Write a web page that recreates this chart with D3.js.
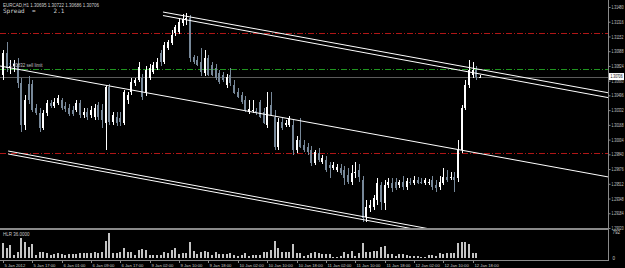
<!DOCTYPE html>
<html>
<head>
<meta charset="utf-8">
<script src="https://cdn.jsdelivr.net/npm/d3@7"></script>
<style>
  html, body { margin: 0; padding: 0; background: #000; }
  svg { display: block; }
</style>
</head>
<body>
<div id="chart"></div>
<script>
// EURCAD H1 candles, 5 Jan 2012 .. 12 Jan 2012
// =================================
var openP = [1.30723,1.30968,1.30801,1.30823,1.30846,1.30634,1.30167,1.30623,1.30623,1.30356,
  1.30300,1.30133,1.30300,1.30412,1.30378,1.30412,1.30445,1.30378,1.30356,1.30334,
  1.30334,1.30412,1.30278,1.30311,1.30278,1.30256,1.30389,1.30334,1.30189,1.30590,
  1.30200,1.30256,1.30245,1.30189,1.30445,1.30534,1.30634,1.30668,1.30690,1.30523,
  1.30690,1.30757,1.30801,1.30968,1.30868,1.31024,1.31079,1.31191,1.31202,1.31302,
  1.31335,1.31358,1.30924,1.30890,1.30868,1.30745,1.30912,1.30835,1.30801,1.30745,
  1.30723,1.30612,1.30723,1.30612,1.30534,1.30501,1.30445,1.30311,1.30322,1.30322,
  1.30423,1.30311,1.30167,1.30389,1.30256,1.29922,1.30200,1.30167,1.30167,1.30167,
  1.29888,1.30000,1.29944,1.29922,1.29888,1.29744,1.29855,1.29755,1.29777,1.29721,
  1.29688,1.29666,1.29688,1.29666,1.29610,1.29532,1.29632,1.29666,1.29554,1.29143,
  1.29243,1.29254,1.29332,1.29499,1.29300,1.29499,1.29521,1.29532,1.29499,1.29532,
  1.29476,1.29532,1.29521,1.29554,1.29532,1.29521,1.29521,1.29554,1.29499,1.29476,
  1.29521,1.29588,1.29577,1.29588,1.29577,1.29888,1.30356,1.30612,1.30723,1.30779,
  1.30695];
var highP = [1.31001,1.31091,1.30890,1.30890,1.30912,1.30690,1.30501,1.30712,1.30668,1.30400,
  1.30356,1.30334,1.30445,1.30445,1.30467,1.30501,1.30467,1.30423,1.30400,1.30378,
  1.30445,1.30445,1.30356,1.30356,1.30378,1.30400,1.30423,1.30400,1.30612,1.30623,
  1.30311,1.30311,1.30311,1.30556,1.30534,1.30690,1.30690,1.30868,1.30734,1.30823,
  1.30846,1.30868,1.30912,1.31001,1.31091,1.31113,1.31224,1.31280,1.31358,1.31402,
  1.31413,1.31391,1.30946,1.30935,1.31024,1.31001,1.30946,1.30868,1.30846,1.30779,
  1.30757,1.30734,1.30801,1.30668,1.30578,1.30534,1.30489,1.30445,1.30445,1.30356,
  1.30445,1.30356,1.30534,1.30534,1.30334,1.30245,1.30245,1.30222,1.30267,1.30222,
  1.30044,1.30245,1.30000,1.29966,1.29933,1.29888,1.29911,1.29833,1.29822,1.29755,
  1.29755,1.29733,1.29733,1.29710,1.29688,1.29721,1.29755,1.29733,1.29599,1.29332,
  1.29332,1.29388,1.29577,1.29532,1.29554,1.29577,1.29577,1.29577,1.29554,1.29599,
  1.29577,1.29577,1.29599,1.29588,1.29577,1.29577,1.29566,1.29599,1.29554,1.29599,
  1.29688,1.29666,1.29643,1.29643,1.30000,1.30389,1.30668,1.30890,1.30868,1.30823,
  1.30722];
var lowP = [1.30668,1.30757,1.30734,1.30757,1.30578,1.30089,1.30111,1.30400,1.30311,1.30278,
  1.30089,1.30111,1.30267,1.30356,1.30356,1.30389,1.30334,1.30311,1.30267,1.30267,
  1.30311,1.30245,1.30245,1.30222,1.30245,1.30222,1.30222,1.30133,1.29888,1.30167,
  1.30167,1.30156,1.30156,1.30167,1.30400,1.30501,1.30601,1.30645,1.30445,1.30489,
  1.30668,1.30734,1.30779,1.30823,1.30846,1.31001,1.31057,1.31157,1.31180,1.31269,
  1.31280,1.30868,1.30846,1.30823,1.30712,1.30712,1.30712,1.30712,1.30668,1.30623,
  1.30645,1.30578,1.30601,1.30512,1.30467,1.30400,1.30311,1.30289,1.30300,1.30278,
  1.30245,1.30178,1.30133,1.30267,1.29888,1.29888,1.30111,1.30144,1.30144,1.29833,
  1.29855,1.29911,1.29866,1.29833,1.29710,1.29721,1.29755,1.29733,1.29643,1.29577,
  1.29666,1.29643,1.29610,1.29499,1.29510,1.29499,1.29577,1.29532,1.29087,1.29087,
  1.29198,1.29221,1.29276,1.29221,1.29221,1.29465,1.29421,1.29443,1.29465,1.29443,
  1.29443,1.29499,1.29499,1.29510,1.29510,1.29499,1.29499,1.29443,1.29421,1.29443,
  1.29499,1.29532,1.29554,1.29421,1.29532,1.29855,1.30334,1.30578,1.30690,1.30668,
  1.30686];
var closeP = [1.30968,1.30801,1.30823,1.30846,1.30634,1.30167,1.30445,1.30445,1.30334,1.30300,
  1.30133,1.30300,1.30412,1.30378,1.30423,1.30467,1.30356,1.30345,1.30289,1.30289,
  1.30412,1.30278,1.30311,1.30256,1.30334,1.30356,1.30256,1.30222,1.30590,1.30200,
  1.30278,1.30189,1.30200,1.30534,1.30501,1.30645,1.30668,1.30812,1.30478,1.30779,
  1.30801,1.30835,1.30868,1.30868,1.31057,1.31091,1.31168,1.31257,1.31313,1.31346,
  1.31358,1.30912,1.30868,1.30835,1.30757,1.30912,1.30723,1.30723,1.30690,1.30645,
  1.30668,1.30701,1.30634,1.30523,1.30478,1.30423,1.30334,1.30345,1.30334,1.30300,
  1.30256,1.30189,1.30367,1.30278,1.29922,1.30200,1.30133,1.30189,1.30245,1.29888,
  1.30000,1.29922,1.29888,1.29866,1.29744,1.29866,1.29777,1.29799,1.29666,1.29688,
  1.29721,1.29699,1.29632,1.29577,1.29532,1.29632,1.29643,1.29588,1.29131,1.29254,
  1.29276,1.29354,1.29521,1.29310,1.29499,1.29532,1.29465,1.29465,1.29532,1.29476,
  1.29543,1.29521,1.29554,1.29521,1.29521,1.29554,1.29532,1.29476,1.29465,1.29532,
  1.29588,1.29554,1.29588,1.29554,1.29888,1.30356,1.30612,1.30779,1.30779,1.30701,
  1.30706];
var volumes = [475,311,404,93,196,621,506,351,435,93,
  186,196,155,93,124,155,124,93,124,124,
  124,155,155,155,155,186,165,186,537,792,
  155,155,186,320,196,196,93,248,270,248,
  93,93,93,93,196,155,248,320,124,155,
  165,488,217,124,196,217,196,93,186,124,
  124,124,155,93,62,93,165,62,93,93,
  93,196,196,248,528,301,196,186,186,425,
  155,155,62,93,155,196,165,124,124,124,
  40,22,62,186,124,227,71,165,457,196,
  196,227,217,332,373,124,124,62,124,124,
  93,62,62,62,40,40,93,93,71,165,
  124,155,165,155,475,506,488,425,155,155,
  5];

// axis labels
var priceTicks = [1.31480,1.31316,1.31152,1.30988,1.30824,1.30660,1.30496,1.30332,
  1.30168,1.30004,1.29840,1.29676,1.29512,1.29348,1.29184,1.29020];
var timeTickBars = [0,8,16,24,32,40,48,56,64,72,80,88,96,104,112,120,128];
var timeTickLabels = ["5 Jan 2012","5 Jan 17:00","6 Jan 01:00","6 Jan 09:00","6 Jan 17:00",
  "9 Jan 02:00","9 Jan 10:00","9 Jan 18:00","10 Jan 02:00","10 Jan 10:00","10 Jan 18:00",
  "11 Jan 02:00","11 Jan 10:00","11 Jan 18:00","12 Jan 02:00","12 Jan 10:00","12 Jan 18:00"];
var volTicks = [792, 0];

// levels and trend lines (bar index, price)
var levelPrices = [1.31191, 1.30790, 1.29852];
var levelKinds = ["stop", "limit", "stop"];
var trendLines = [
  [[-0.8, 1.30823], [165, 1.29588]],
  [[43.6, 1.31424], [165, 1.30525]],
  [[43.6, 1.31385], [165, 1.30471]],
  [[1.4, 1.29877], [165, 1.28642]],
  [[1.4, 1.29844], [165, 1.28608]]
];
var bidPrice = 1.30706;
var headerText = "EURCAD,H1  1.30695 1.30722 1.30686 1.30706";
var spreadText = "Spread  =     2.1";
var limitText = "1.30832 sell limit";
var volLabel = "HLR 36.0000";

// Set up chart
// ================================
var svgWidth = 625;
var svgHeight = 268;
var axisX = 608;
var mainBottom = 228;
var volBottom = 260;
var fontFam = "'Liberation Sans', Arial, sans-serif";

var svg = d3.select("#chart")
  .append("svg")
  .attr("width", svgWidth)
  .attr("height", svgHeight)
  .style("font-family", fontFam);

svg.append("rect").attr("width", svgWidth).attr("height", svgHeight).attr("fill", "#000");

var bars = closeP.map(function(c, i) {
  return { i: i, o: openP[i], h: highP[i], l: lowP[i], c: c, v: volumes[i] };
});

var xScale = d3.scaleLinear().domain([0, 130]).range([3, 480]);
var yScale = d3.scaleLinear().domain([1.29020, 1.31480]).range([mainBottom, 7]);
var vScale = d3.scaleLinear().domain([0, 792]).range([258, 232.5]);

svg.append("clipPath").attr("id", "mainClip")
  .append("rect").attr("x", 0).attr("y", 0).attr("width", axisX).attr("height", mainBottom);

var mainG = svg.append("g").attr("clip-path", "url(#mainClip)");

// horizontal order levels
levelPrices.forEach(function(p, k) {
  mainG.append("line")
    .attr("x1", 0).attr("x2", axisX)
    .attr("y1", Math.round(yScale(p)) + 0.5).attr("y2", Math.round(yScale(p)) + 0.5)
    .attr("stroke", levelKinds[k] == "limit" ? "#1f951f" : "#b01616")
    .attr("stroke-dasharray", "6,2,1,2");
});

// bid line
mainG.append("line")
  .attr("x1", 0).attr("x2", axisX)
  .attr("y1", Math.round(yScale(bidPrice)) + 0.5).attr("y2", Math.round(yScale(bidPrice)) + 0.5)
  .attr("stroke", "#5a5a5a");

// candles
var upCol = "#ffffff", downCol = "#778899";
var candleG = mainG.append("g").attr("shape-rendering", "crispEdges");

candleG.selectAll(".wick")
  .data(bars).enter().append("rect")
  .attr("x", d => Math.round(xScale(d.i)))
  .attr("y", d => yScale(d.h))
  .attr("width", 1)
  .attr("height", d => Math.max(1, yScale(d.l) - yScale(d.h)))
  .attr("fill", d => d.c >= d.o ? upCol : downCol);

candleG.selectAll(".body")
  .data(bars).enter().append("rect")
  .attr("x", d => Math.round(xScale(d.i)) - 1)
  .attr("y", d => yScale(Math.max(d.o, d.c)))
  .attr("width", 2)
  .attr("height", d => Math.max(1, Math.abs(yScale(d.o) - yScale(d.c))))
  .attr("fill", d => d.c >= d.o ? upCol : downCol);

// trend lines
var line = d3.line().x(d => xScale(d[0])).y(d => yScale(d[1]));
mainG.selectAll(".trend")
  .data(trendLines).enter().append("path")
  .attr("d", d => line(d))
  .attr("fill", "none")
  .attr("stroke", "#ffffff")
  .attr("stroke-width", 1);

// texts top-left
svg.append("text").attr("x", 3).attr("y", 6.5)
  .attr("font-size", "4.5px").attr("fill", "#d0d0d0").text(headerText);
svg.append("text").attr("x", 3).attr("y", 12.5)
  .attr("font-family", "'DejaVu Sans Mono', monospace")
  .attr("font-size", "6px").attr("fill", "#d0d0d0").attr("xml:space", "preserve")
  .text(spreadText);
svg.append("text").attr("x", 9).attr("y", yScale(levelPrices[1]) - 2)
  .attr("font-size", "4.5px").attr("fill", "#c0c0c0").text(limitText);

// volume panel
var volG = svg.append("g").attr("shape-rendering", "crispEdges");
volG.selectAll(".vol")
  .data(bars).enter().append("rect")
  .attr("x", d => Math.round(xScale(d.i)) - 1)
  .attr("y", d => vScale(d.v))
  .attr("width", 2)
  .attr("height", d => vScale(0) - vScale(d.v))
  .attr("fill", "#c4c4c4");

svg.append("text").attr("x", 3).attr("y", 236)
  .attr("font-size", "4.5px").attr("fill", "#c8c8c8").text(volLabel);

// frame lines
var frame = svg.append("g").attr("shape-rendering", "crispEdges");
frame.append("rect").attr("x", 0).attr("y", mainBottom).attr("width", axisX + 1).attr("height", 2).attr("fill", "#8a8a8a");
frame.append("line").attr("x1", axisX + 0.5).attr("x2", axisX + 0.5).attr("y1", 0).attr("y2", volBottom + 1)
  .attr("stroke", "#8a8a8a");
frame.append("line").attr("x1", 0).attr("x2", axisX + 1).attr("y1", volBottom + 0.5).attr("y2", volBottom + 0.5)
  .attr("stroke", "#8a8a8a");

// price axis
var rightAxis = d3.axisRight(yScale)
  .tickValues(priceTicks)
  .tickFormat(d3.format(".5f"))
  .tickSize(2)
  .tickPadding(0);

var axisG = svg.append("g")
  .attr("transform", `translate(${axisX + 0.5}, 0)`)
  .call(rightAxis);
axisG.select(".domain").remove();
axisG.selectAll("line").attr("stroke", "#8a8a8a");
axisG.selectAll("text")
  .attr("x", 0)
  .attr("transform", "translate(3,0) scale(0.7,1)")
  .attr("fill", "#c8c8c8").style("font-size", "4.8px")
  .style("font-family", fontFam);

// bid price box
var by = yScale(bidPrice);
svg.append("rect").attr("x", axisX + 1).attr("y", by - 3.5).attr("width", 15).attr("height", 7).attr("fill", "#ffffff");
svg.append("text")
  .attr("transform", `translate(${axisX + 2.5}, ${by + 1.7}) scale(0.7,1)`)
  .attr("font-size", "4.8px").attr("fill", "#000").style("font-family", fontFam)
  .text(d3.format(".5f")(bidPrice));

// volume axis
var volAxis = d3.axisRight(vScale).tickValues(volTicks).tickSize(0).tickPadding(4);
var volAxisG = svg.append("g").attr("transform", `translate(${axisX + 0.5}, 0)`).call(volAxis);
volAxisG.select(".domain").remove();
volAxisG.selectAll("text").attr("fill", "#c8c8c8").style("font-size", "4.6px")
  .style("font-family", fontFam);

// time axis
var timeG = svg.append("g");
timeG.selectAll(".ttick")
  .data(timeTickBars).enter().append("line")
  .attr("x1", d => Math.round(xScale(d)) + 0.5).attr("x2", d => Math.round(xScale(d)) + 0.5)
  .attr("y1", volBottom).attr("y2", volBottom + 3)
  .attr("stroke", "#8a8a8a");
timeG.selectAll(".tlabel")
  .data(timeTickBars).enter().append("text")
  .attr("x", d => Math.round(xScale(d)) + 1.5)
  .attr("y", 266.5)
  .attr("font-size", "4.2px").attr("fill", "#c8c8c8")
  .text((d, k) => timeTickLabels[k]);
</script>
</body>
</html>
